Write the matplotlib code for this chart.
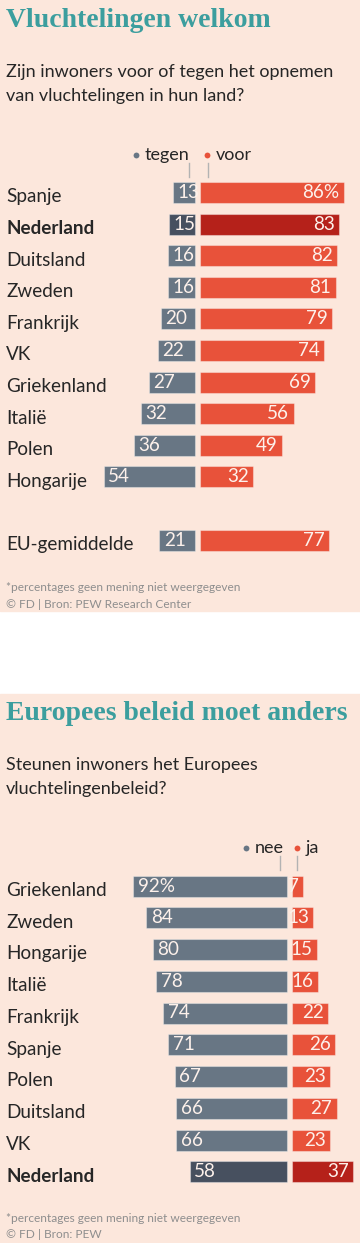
import matplotlib
matplotlib.use("Agg")
import matplotlib.pyplot as plt
from matplotlib.patches import Rectangle

# --- data -------------------------------------------------------------
landen1 = ["Spanje", "Nederland", "Duitsland", "Zweden", "Frankrijk", "VK",
           "Griekenland", "Italië", "Polen", "Hongarije", "EU-gemiddelde"]
tegen = [13, 15, 16, 16, 20, 22, 27, 32, 36, 54, 21]
voor = [86, 83, 82, 81, 79, 74, 69, 56, 49, 32, 77]
rijen1 = [0, 1, 2, 3, 4, 5, 6, 7, 8, 9, 11]

landen2 = ["Griekenland", "Zweden", "Hongarije", "Italië", "Frankrijk",
           "Spanje", "Polen", "Duitsland", "VK", "Nederland"]
nee = [92, 84, 80, 78, 74, 71, 67, 66, 66, 58]
ja = [7, 13, 15, 16, 22, 26, 23, 27, 23, 37]
rijen2 = list(range(10))

# --- style -------------------------------------------------------------
W, H = 360, 1243
BG = "#fce7dc"
TEAL = "#3c9e9e"
GRIJS = "#687684"
GRIJS_NL = "#47505f"
ROOD = "#e8523a"
ROOD_NL = "#b5211a"
TXT = "#262626"
NOOT = "#8e8e8e"
WIT = "#fdf1eb"
SANS = "Lato"
SERIF = "Liberation Serif"

fig = plt.figure(figsize=(W / 100, H / 100), dpi=100)
fig.patch.set_facecolor("white")

# overlay axes in pixel coordinates for backgrounds and texts
deco = fig.add_axes([0, 0, 1, 1])
deco.set_xlim(0, W)
deco.set_ylim(H, 0)
deco.axis("off")
deco.add_patch(Rectangle((0, 0), W, 611, color=BG, zorder=0))
deco.add_patch(Rectangle((0, 694), W, H - 694, color=BG, zorder=0))


def kop(y_titel, titel, y_vraag, vraag):
    deco.text(6, y_titel, titel, family=SERIF, weight="bold", size=20,
              color=TEAL, va="baseline")
    for i, regel in enumerate(vraag):
        deco.text(6, y_vraag + i * 23.5, regel, family=SANS, size=13,
                  color=TXT, va="baseline")


def legenda(y, items):
    # items: (dot x, text, color, tick x)
    for xd, label, kleur, xt in items:
        deco.plot(xd, y - 5.5, "o", ms=4.2, color=kleur, mec="none")
        deco.text(xd + 9, y, label, family=SANS, size=13, color=TXT,
                  va="baseline")
        deco.plot([xt, xt], [y + 3, y + 17], color="#b3b3b3", lw=1)


def noot(y, bron):
    deco.text(6, y, "*percentages geen mening niet weergegeven", family=SANS,
              size=8.6, color=NOOT, va="baseline")
    deco.text(6, y + 16.5, bron, family=SANS, size=8.6, color=NOOT,
              va="baseline")


def paneel(top, bottom, y0, stap, cx, schaal, landen, rijen, links, rechts,
           kleur_l, kleur_r, pct_links, bold_land):
    ax = fig.add_axes([0, 1 - bottom / H, 1, (bottom - top) / H])
    ax.set_xlim(-cx / schaal, (W - cx) / schaal)
    ax.set_ylim((bottom - y0) / stap, (top - y0) / stap)
    ax.axis("off")
    g = 2.5 / schaal
    h = 21 / stap
    pad = 4.5 / schaal
    cl = [GRIJS_NL if l == bold_land else kleur_l for l in landen]
    cr = [ROOD_NL if l == bold_land else kleur_r for l in landen]
    ax.barh(rijen, [-v for v in links], left=-g, height=h, color=cl,
            edgecolor=(1, 1, 1, 0.35), linewidth=0.8)
    ax.barh(rijen, rechts, left=g, height=h, color=cr,
            edgecolor=(1, 1, 1, 0.35), linewidth=0.8)
    for i, (land, r, l, rv) in enumerate(zip(landen, rijen, links, rechts)):
        ax.text(6 / W, r + h / 2 - 0.02, land, transform=ax.get_yaxis_transform(),
                family=SANS, size=13.6, color=TXT, va="baseline",
                weight="bold" if land == bold_land else "normal")
        tl = f"{l}%" if (i == 0 and pct_links) else str(l)
        tr = f"{rv}%" if (i == 0 and not pct_links) else str(rv)
        ax.text(-g - l + pad, r, tl, family=SANS, size=13.6, color=WIT,
                ha="left", va="center")
        ax.text(g + rv - pad, r, tr, family=SANS, size=13.6, color=WIT,
                ha="right", va="center")
    return ax


# --- paneel 1 ---------------------------------------------------------
kop(27, "Vluchtelingen welkom", 77,
    ["Zijn inwoners voor of tegen het opnemen", "van vluchtelingen in hun land?"])
legenda(160, [(136, "tegen", GRIJS, 188.5), (206.5, "voor", ROOD, 207.5)])
paneel(170, 565, 192.5, 31.6, 197, 1.68, landen1, rijen1, tegen, voor,
       GRIJS, ROOD, False, "Nederland")
noot(591, "© FD | Bron: PEW Research Center")

# --- paneel 2 ---------------------------------------------------------
kop(720, "Europees beleid moet anders", 770,
    ["Steunen inwoners het Europees", "vluchtelingenbeleid?"])
legenda(853, [(246, "nee", GRIJS, 279.5), (296.5, "ja", ROOD, 296.5)])
paneel(862, 1195, 886, 31.75, 289.2, 1.67, landen2, rijen2, nee, ja,
       GRIJS, ROOD, True, "Nederland")
noot(1222, "© FD | Bron: PEW")

fig.savefig("out.png", dpi=100, facecolor=fig.get_facecolor())
